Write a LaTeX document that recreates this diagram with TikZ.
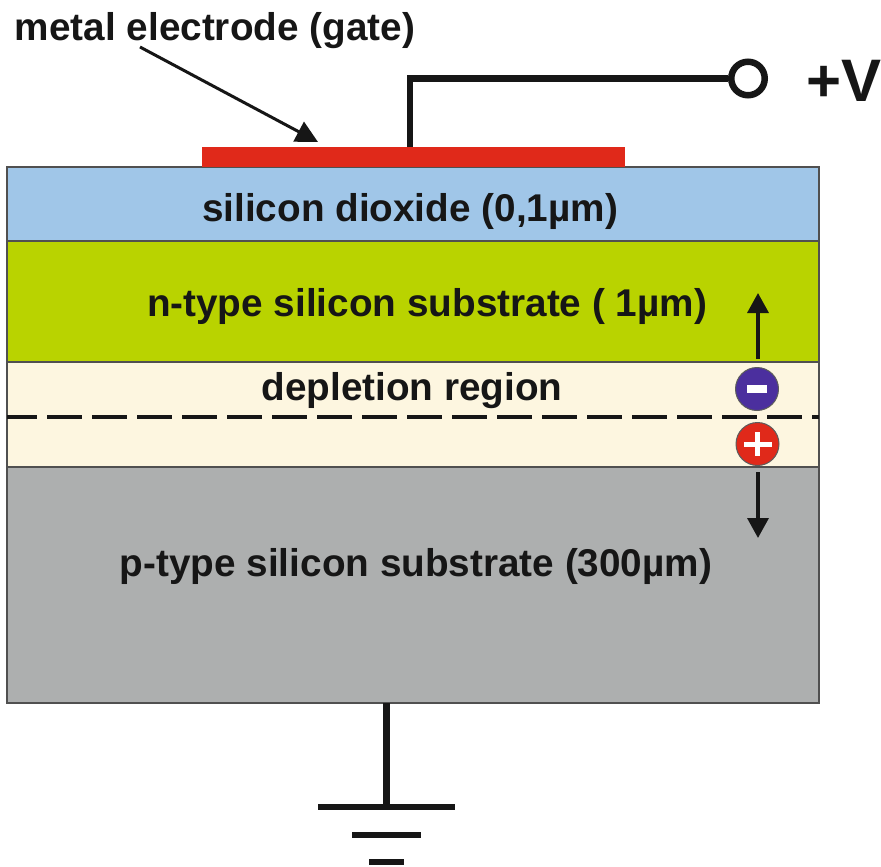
\documentclass[tikz,border=0pt]{standalone}
\usepackage{fontspec}
\setmainfont{Liberation Sans}
\usetikzlibrary{arrows.meta,positioning,calc}
\definecolor{oxide}{HTML}{A0C6E8}
\definecolor{ntype}{HTML}{B9D300}
\definecolor{depl}{HTML}{FDF6E0}
\definecolor{ptype}{HTML}{ADAFAF}
\definecolor{metal}{HTML}{E0291A}
\definecolor{electron}{HTML}{4B2F9E}
\definecolor{ink}{HTML}{161616}
\tikzset{
  lbl/.style={font=\fontsize{38.7}{42}\selectfont\bfseries,text=ink,inner sep=0pt},
  wire/.style={draw=ink,line width=6.5pt},
  flow/.style={draw=ink,line width=3.5pt,-{Triangle[length=20pt,width=21pt]}},
  charge/.style={circle,draw=ink!70,line width=1pt,minimum size=43pt,inner sep=0pt},
}
\begin{document}
\begin{tikzpicture}[x=1pt,y=-1pt]
  \useasboundingbox (0,0) rectangle (881,867);
  % layers
  \foreach \t/\b/\c in {167/241/oxide,241/362/ntype,362/467/depl,467/703/ptype}{
    \fill[\c] (7,\t) rectangle (819,\b);
    \draw[ink!75,line width=1.5pt] (7,\t) rectangle (819,\b);
  }
  \draw[ink,line width=3.5pt,dash pattern=on 35pt off 10pt,dash phase=5pt] (7,417) -- (819,417);
  % gate
  \node[fill=metal,minimum width=423pt,minimum height=20pt,inner sep=0pt] (gate) at (413.5,157) {};
  \node[lbl] (gatelbl) at (215,31) {metal electrode (gate)};
  \coordinate (arrowstart) at (140,47);
  \coordinate (arrowend) at (318,142);
  \draw[ink,line width=3pt,-{Triangle[length=22pt,width=22pt]}] (arrowstart) -- (arrowend);
  % terminal
  \coordinate (wiretop) at (410,147);
  \node[circle,draw=ink,line width=6.5pt,minimum size=33.5pt,inner sep=0pt] (term) at (748,78.5) {};
  \draw[wire] (wiretop) -- (wiretop|-term.west) -- (term.west);
  \node[font=\fontsize{60}{60}\selectfont\bfseries,text=ink,inner sep=0pt] (vlbl) at (844,81) {+V};
  % layer labels
  \node[lbl] (oxidelbl) at (410,212) {silicon dioxide (0,1µm)};
  \node[lbl] (ntypelbl) at (427,307) {n-type silicon substrate ( 1µm)};
  \node[lbl] (depllbl) at (412,391) {depletion region};
  \node[lbl] (ptypelbl) at (416,566) {p-type silicon substrate (300µm)};
  % charges
  \node[charge,fill=electron] (minus) at (757,389) {};
  \fill[white] (747,385) rectangle (767,393);
  \node[charge,fill=metal] (plus) at (757.5,444) {};
  \fill[white] (744,441.5) rectangle (772,446.5);
  \fill[white] (755,432) rectangle (760,456);
  \coordinate (uptip) at (758,293);
  \coordinate (downtip) at (758,538);
  \draw[flow] (758,359) -- (uptip);
  \draw[flow] (758,472) -- (downtip);
  % ground
  \coordinate (gnd) at (386,703);
  \coordinate (gndbar) at (386,807);
  \draw[ink,line width=7pt] (gnd) -- (gndbar);
  \foreach \y/\w in {807/68.5,835/34.5,862/17.5}{
    \draw[ink,line width=6.5pt] ($(gndbar|-0,\y)+(-\w+0.5,0)$) -- ($(gndbar|-0,\y)+(\w+0.5,0)$);
  }
\end{tikzpicture}
\end{document}
